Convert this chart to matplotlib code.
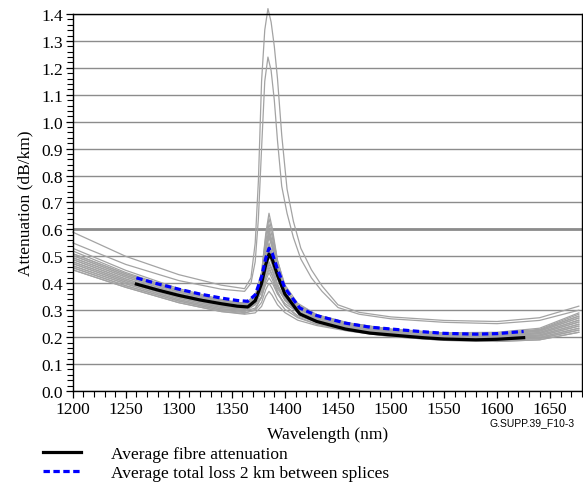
import matplotlib
matplotlib.use("Agg")
import matplotlib.pyplot as plt
from matplotlib.ticker import MultipleLocator, FormatStrFormatter

# shared wavelength grid for the bundle of measured fibres (nm)
wavelength = [1200, 1250, 1300, 1340, 1362, 1372, 1378, 1382, 1385, 1388,
              1393, 1400, 1412, 1430, 1460, 1500, 1550, 1600, 1640, 1677]

# attenuation of the individual fibres (dB/km)
gray_curves = [
    [.450, .385, .328, .295, .285, .290, .314, .352, .370, .355, .320, .291, .263, .243, .222, .202, .188, .184, .190, .218],
    [.458, .391, .334, .300, .291, .299, .329, .377, .400, .381, .339, .303, .272, .248, .227, .205, .191, .188, .195, .226],
    [.495, .423, .361, .325, .313, .321, .350, .397, .420, .402, .360, .325, .293, .268, .244, .222, .206, .205, .217, .263],
    [.465, .398, .339, .305, .296, .308, .347, .409, .440, .416, .363, .318, .280, .254, .230, .209, .194, .191, .199, .233],
    [.450, .385, .328, .295, .288, .303, .350, .424, .460, .432, .370, .318, .275, .248, .224, .202, .188, .184, .190, .218],
    [.480, .410, .350, .315, .306, .321, .369, .443, .480, .452, .389, .336, .293, .264, .238, .215, .200, .198, .208, .248],
    [.473, .404, .345, .310, .303, .321, .374, .458, .500, .469, .398, .339, .292, .261, .235, .212, .197, .195, .204, .241],
    [.503, .429, .367, .330, .321, .339, .393, .478, .520, .488, .417, .358, .311, .277, .249, .225, .209, .209, .222, .271],
    [.488, .416, .356, .320, .313, .334, .396, .492, .540, .504, .424, .358, .305, .270, .243, .218, .203, .202, .213, .256],
    [.458, .391, .334, .300, .295, .320, .389, .497, .550, .510, .421, .348, .291, .256, .229, .205, .191, .188, .195, .226],
    [.510, .435, .372, .335, .326, .349, .415, .519, .570, .532, .446, .376, .321, .283, .253, .228, .212, .212, .226, .278],
    [.480, .410, .350, .315, .309, .335, .409, .523, .580, .538, .444, .366, .306, .269, .239, .215, .200, .198, .208, .248],
    [.465, .398, .339, .305, .300, .329, .407, .529, .590, .545, .445, .363, .300, .262, .233, .209, .194, .191, .199, .233],
    [.495, .423, .361, .325, .318, .346, .422, .541, .600, .556, .459, .379, .317, .277, .247, .222, .206, .205, .217, .263],
    [.488, .416, .356, .320, .315, .345, .428, .556, .620, .573, .468, .382, .316, .274, .244, .218, .203, .202, .213, .256],
    [.503, .429, .367, .330, .324, .356, .441, .574, .640, .591, .483, .394, .326, .283, .251, .225, .209, .209, .222, .271],
    [.473, .404, .345, .310, .307, .343, .438, .586, .660, .606, .486, .387, .313, .269, .238, .212, .197, .195, .204, .241],
    [.510, .435, .372, .335, .322, .332, .367, .423, .450, .429, .380, .340, .305, .277, .251, .228, .212, .212, .226, .278],
    [.530, .448, .380, .340, .325, .344, .399, .487, .530, .497, .424, .364, .315, .281, .252, .230, .216, .218, .233, .290],
    [.520, .440, .375, .336, .323, .335, .375, .439, .470, .446, .391, .346, .308, .278, .251, .229, .214, .215, .229, .285],
]

# two fibres with a very high water peak
tall_wavelength = [1200, 1250, 1300, 1340, 1362, 1368, 1372, 1375, 1378, 1381, 1384, 1387, 1390, 1393,
                   1397, 1402, 1408, 1415, 1425, 1435, 1450, 1470, 1500, 1550, 1600, 1640, 1677]
tall_curves = [
    [.590, .500, .432, .393, .380, .420, .550, .780, 1.150, 1.340, 1.420, 1.370, 1.280, 1.160,
     .950, .750, .630, .530, .450, .390, .320, .292, .275, .262, .258, .272, .315],
    [.550, .470, .410, .378, .370, .400, .480, .640, .900, 1.150, 1.240, 1.190, 1.080, .930,
     .760, .660, .570, .490, .420, .370, .310, .285, .268, .255, .250, .262, .300],
]

# averages
avg_wavelength = [1260, 1280, 1300, 1320, 1340, 1355, 1365, 1372, 1378, 1382, 1385, 1388,
                  1393, 1400, 1414, 1430, 1457, 1480, 1509, 1530, 1550, 1580, 1600, 1625]
avg_fibre = [.397, .375, .355, .338, .324, .315, .312, .335, .400, .470, .508, .490,
             .430, .360, .286, .258, .230, .215, .205, .198, .193, .190, .192, .198]
avg_total_loss = [.420, .398, .378, .360, .345, .336, .333, .357, .424, .494, .530, .512,
                  .452, .382, .308, .280, .252, .237, .227, .220, .214, .211, .213, .221]

plt.rcParams['font.family'] = ['Liberation Serif', 'DejaVu Serif']

fig = plt.figure(figsize=(5.83, 4.85), dpi=100)
ax = fig.add_axes([0.1247, 0.1918, 0.8736, 0.7773])

gray = '#a3a3a3'
for c in gray_curves:
    ax.plot(wavelength, c, color=gray, lw=0.9, zorder=2)
for c in tall_curves:
    ax.plot(tall_wavelength, c, color=gray, lw=0.9, zorder=2, clip_on=False)

l1, = ax.plot(avg_wavelength, avg_fibre, color='black', lw=2.3, zorder=3,
              label='Average fibre attenuation')
l2, = ax.plot(avg_wavelength, avg_total_loss, color='#0000ff', lw=2.3, zorder=4,
              linestyle=(0, (2.0, 1.1)), label='Average total loss 2 km between splices')

ax.set_xlim(1200, 1680)
ax.set_ylim(0, 1.4)
ax.xaxis.set_major_locator(MultipleLocator(50))
ax.xaxis.set_minor_locator(MultipleLocator(10))
ax.yaxis.set_major_locator(MultipleLocator(0.1))
ax.yaxis.set_minor_locator(MultipleLocator(0.02))
ax.yaxis.set_major_formatter(FormatStrFormatter('%.1f'))
ax.set_xticks([1200, 1250, 1300, 1350, 1400, 1450, 1500, 1550, 1600, 1650])

ax.grid(axis='y', color='#8c8c8c', lw=1.0)
ax.axhline(0.6, color='#8c8c8c', lw=2.0, zorder=1)
ax.set_axisbelow(True)

ax.tick_params(which='both', direction='out', color='black', labelsize=12.5)
ax.tick_params(which='major', length=5, width=0.9, pad=2)
ax.tick_params(which='minor', length=4, width=0.8)
for s in ax.spines.values():
    s.set_color('black')
    s.set_linewidth(1.0)

ax.set_xlabel('Wavelength (nm)', fontsize=12.5, labelpad=7)
ax.set_ylabel('Attenuation (dB/km)', fontsize=12.5, labelpad=6)

fig.legend(handles=[l1, l2], loc='upper left', bbox_to_anchor=(0.074, 0.079),
           frameon=False, fontsize=12.5, handlelength=2.2, handletextpad=1.7,
           labelspacing=0.15, borderaxespad=0, borderpad=0)

fig.text(489 / 583, 1 - 423 / 485, 'G.SUPP.39_F10-3', fontsize=7.5,
         family='Liberation Sans', va='center', ha='left')

fig.savefig('out.png', dpi=100)
